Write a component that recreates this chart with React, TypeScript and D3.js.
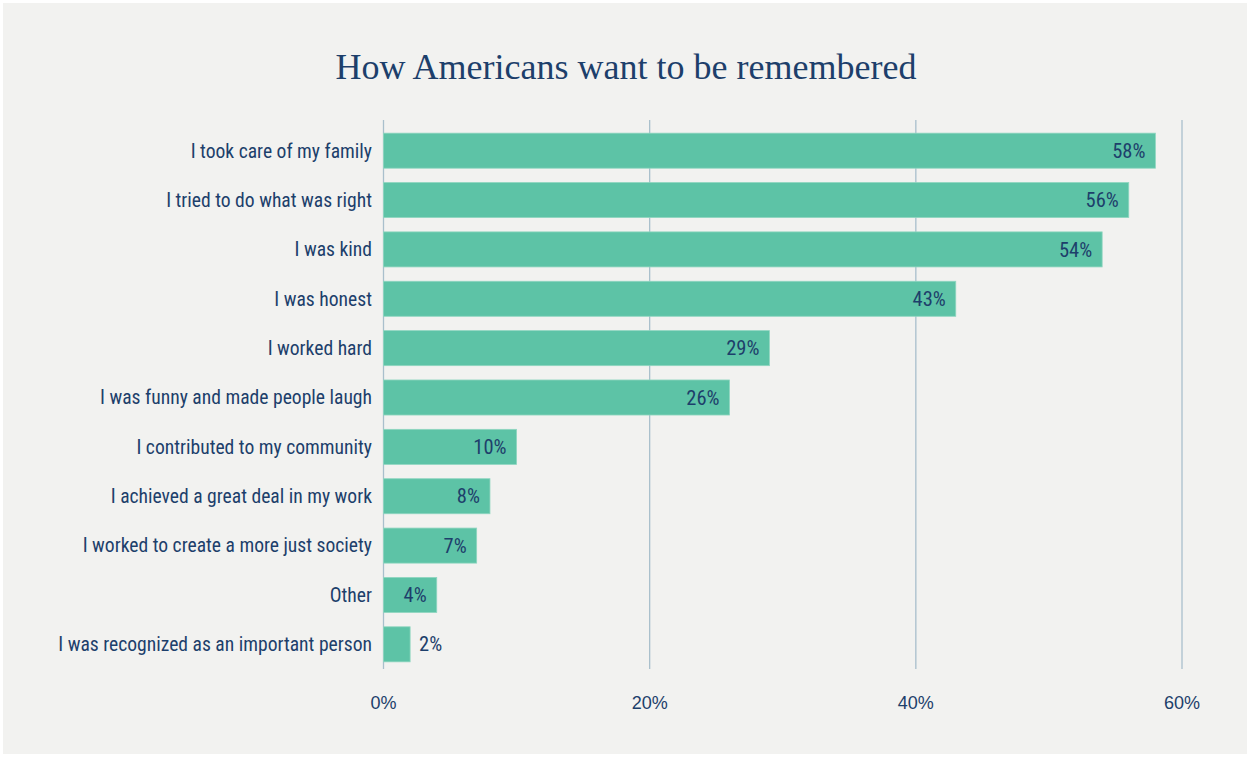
import React from "react";
import * as d3 from "d3";

const categories = [
  "I took care of my family",
  "I tried to do what was right",
  "I was kind",
  "I was honest",
  "I worked hard",
  "I was funny and made people laugh",
  "I contributed to my community",
  "I achieved a great deal in my work",
  "I worked to create a more just society",
  "Other",
  "I was recognized as an important person",
];
const values = [58, 56, 54, 43, 29, 26, 10, 8, 7, 4, 2];
const ticks = [0, 20, 40, 60];

const W = 1250;
const H = 757;
const NAVY = "#1d3f6b";
const BAR = "#5dc3a6";
const LABEL_FONT = "'Liberation Sans Narrow', 'Roboto Condensed', Roboto, sans-serif";

export default function App() {
  const x = d3.scaleLinear().domain([0, 60]).range([383.5, 1182]);
  const y = d3.scaleBand<string>().domain(categories).range([126, 669]).paddingInner(0.29).paddingOuter(0.145);
  return (
    <svg width={W} height={H} style={{ position: "absolute", left: 0, top: 0, display: "block" }}>
      <rect x={0} y={0} width={W} height={H} fill="#ffffff" />
      <rect x={3} y={3} width={W - 6} height={H - 6} fill="#f2f2f0" />
      <text x={626} y={79} textAnchor="middle" fill={NAVY} fontFamily="'Liberation Serif', serif" fontSize={36}>
        How Americans want to be remembered
      </text>
      {ticks.map((t) => (
        <g key={t}>
          <line x1={x(t)} x2={x(t)} y1={120} y2={669} stroke="#a9bfcc" strokeWidth={1.3} />
          <text x={x(t)} y={709} textAnchor="middle" fill={NAVY} fontFamily="'Liberation Sans', Arial, sans-serif" fontSize={18}>
            {t}%
          </text>
        </g>
      ))}
      {categories.map((c, i) => {
        const v = values[i];
        const y0 = y(c)!;
        const bw = y.bandwidth();
        const inside = v >= 4;
        return (
          <g key={c}>
            <rect x={x(0)} y={y0} width={x(v) - x(0)} height={bw} fill={BAR} stroke="#8fd6c0" strokeWidth={0.8} />
            <text x={372} y={y0 + bw / 2} dy="0.35em" textAnchor="end" fill={NAVY} fontFamily={LABEL_FONT} fontSize={19.6}>
              {c}
            </text>
            <text
              x={inside ? x(v) - 10 : x(v) + 9}
              y={y0 + bw / 2}
              dy="0.35em"
              textAnchor={inside ? "end" : "start"}
              fill={NAVY}
              fontFamily={LABEL_FONT}
              fontSize={20.5}
            >
              {v}%
            </text>
          </g>
        );
      })}
    </svg>
  );
}
